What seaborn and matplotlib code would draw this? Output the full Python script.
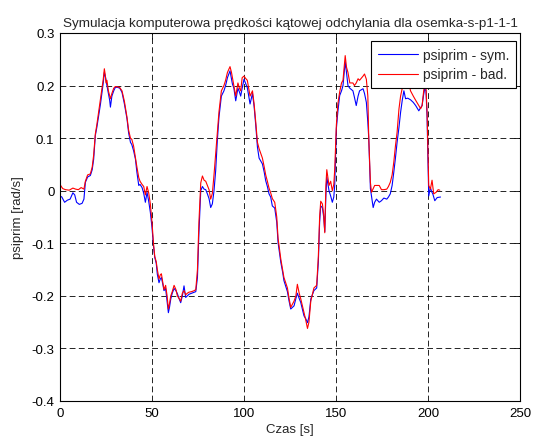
import numpy as np
import pandas as pd
import matplotlib
matplotlib.use("Agg")
import matplotlib.pyplot as plt
import seaborn as sns

title = "Symulacja komputerowa prędkości kątowej odchylania dla osemka-s-p1-1-1"
xlabel = "Czas [s]"
ylabel = "psiprim [rad/s]"
labels = ["psiprim - sym.", "psiprim - bad."]
xticks = [0, 50, 100, 150, 200, 250]
yticks = [-0.4, -0.3, -0.2, -0.1, 0, 0.1, 0.2, 0.3]
yticklabels = ["-0.4", "-0.3", "-0.2", "-0.1", "0", "0.1", "0.2", "0.3"]

sym_t = [0, 1, 2.5, 4, 5.5, 7, 8, 9, 10.5, 12, 13, 13.8, 15, 16.5, 17.5, 18.3, 19.2, 20, 21, 22,
         22.8, 23.5, 24.1, 24.8, 25.5, 26.3, 27, 27.4, 28.2, 29.2, 30, 31, 32.5, 33.7, 35, 36.4,
         37.3, 38.3, 39, 40, 41, 41.8, 42.8, 43.5, 44.6, 45.5, 46.4, 47.3, 48.2, 49.1, 50, 50.8,
         51.5, 52.3, 52.9, 53.8, 54.5, 55.1, 56, 56.5, 57.4, 58.2, 58.9, 59.5, 60.2, 61, 62, 63,
         63.8, 64.7, 65.6, 66.5, 67.4, 68.3, 69.2, 70.1, 71.5, 73, 73.8, 74.7, 75.5, 76.5, 77.4,
         78.3, 79.2, 80.1, 81, 81.9, 82.8, 83.7, 84.6, 85.5, 86.4, 87.7, 89.1, 90, 91, 92.4, 93.7,
         94.5, 95.5, 96.7, 97.5, 98.2, 99, 100, 100.8, 101.8, 103.3, 104.6, 105.5, 106.4, 107.3,
         108.2, 110, 111, 111.8, 112.7, 113.6, 114.5, 115.4, 116.7, 117.8, 118.5, 120, 121, 121.7,
         123.6, 124.5, 125.4, 127.2, 128.2, 129, 130, 130.8, 132.6, 133.5, 134.5, 135.3, 136.3,
         138, 139.5, 140.4, 141.1, 141.7, 142.6, 143.3, 143.9, 144.5, 145, 146.2, 147.1, 148,
         148.8, 149.3, 150.2, 151, 152, 153, 153.8, 155, 155.7, 156.5, 157.5, 159.2, 160, 161,
         162, 162.8, 164.7, 165.5, 166.5, 167.3, 167.8, 168.7, 169.3, 170.2, 171, 172, 173.5,
         174.7, 176, 177.6, 178.5, 179.5, 180.5, 181.4, 182.3, 183.2, 184.2, 185.1, 186, 186.9,
         187.8, 189, 190.5, 192, 193.3, 195, 196, 196.8, 197.5, 198.2, 198.9, 199.5, 199.8,
         200.4, 201.3, 202, 202.6, 203.7, 205, 206.8]
sym_v = [-0.010, -0.012, -0.022, -0.018, -0.016, -0.004, -0.008, -0.022, -0.026, -0.024, -0.016,
         0.016, 0.026, 0.029, 0.040, 0.060, 0.105, 0.120, 0.143, 0.165, 0.187, 0.205, 0.225, 0.215,
         0.200, 0.185, 0.172, 0.159, 0.180, 0.190, 0.196, 0.197, 0.195, 0.187, 0.165, 0.137, 0.110,
         0.092, 0.088, 0.076, 0.060, 0.035, 0.010, 0.012, 0.006, -0.005, -0.022, -0.003, -0.020,
         -0.041, -0.070, -0.105, -0.127, -0.138, -0.159, -0.175, -0.168, -0.165, -0.180, -0.190,
         -0.186, -0.210, -0.232, -0.222, -0.206, -0.195, -0.186, -0.190, -0.196, -0.205, -0.213,
         -0.200, -0.181, -0.203, -0.200, -0.197, -0.195, -0.193, -0.192, -0.165, -0.080, 0.000,
         0.008, 0.003, 0.002, -0.006, -0.015, -0.032, -0.025, 0.000, 0.038, 0.095, 0.140, 0.180,
         0.190, 0.200, 0.215, 0.228, 0.203, 0.195, 0.171, 0.195, 0.188, 0.180, 0.195, 0.212, 0.205,
         0.196, 0.165, 0.185, 0.160, 0.124, 0.083, 0.062, 0.051, 0.035, 0.019, 0.008, -0.006,
         -0.012, -0.029, -0.033, -0.060, -0.098, -0.136, -0.155, -0.171, -0.192, -0.210, -0.225,
         -0.219, -0.205, -0.195, -0.205, -0.212, -0.238, -0.243, -0.251, -0.240, -0.206, -0.190,
         -0.185, -0.136, -0.060, -0.029, -0.032, -0.050, -0.078, -0.010, 0.026, 0.000, -0.010,
         -0.022, -0.012, 0.010, 0.118, 0.150, 0.181, 0.190, 0.200, 0.245, 0.225, 0.200, 0.195,
         0.190, 0.178, 0.162, 0.180, 0.190, 0.194, 0.185, 0.168, 0.130, 0.100, 0.004, -0.010,
         -0.032, -0.022, -0.016, -0.022, -0.019, -0.014, -0.016, -0.012, -0.006, 0.010, 0.035,
         0.062, 0.092, 0.120, 0.149, 0.172, 0.190, 0.175, 0.176, 0.173, 0.168, 0.162, 0.152, 0.158,
         0.162, 0.180, 0.194, 0.190, 0.140, 0.086, -0.010, 0.006, -0.002, -0.006, -0.019, -0.013,
         -0.012]

bad_t = [0, 0.7, 1.5, 3, 5, 7, 8.5, 10, 11.5, 13, 13.8, 15, 16.5, 17.5, 18.3, 19.2, 20, 21, 22,
         22.8, 23.5, 24.1, 24.6, 25, 25.5, 26.3, 27, 27.4, 28.2, 29.2, 30, 31, 32.5, 33.7, 35,
         36.4, 37.3, 38.3, 39, 40, 41, 41.8, 42.8, 43.5, 44.6, 45.5, 46.4, 47.3, 48.2, 49.1, 50,
         50.8, 51.5, 52.3, 52.9, 53.8, 54.5, 55.1, 56, 56.5, 57.4, 58.2, 58.9, 59.5, 60.2, 61, 62,
         63, 63.8, 64.7, 65.6, 66.5, 67.4, 68.3, 69.2, 70.1, 71.5, 73, 73.8, 74.7, 75.5, 76.5,
         77.4, 78.3, 79.2, 80.1, 81, 81.9, 82.8, 83.7, 84.6, 85.5, 86.4, 87.7, 89.1, 90, 91, 92.4,
         93.2, 93.7, 94.5, 95.5, 96.7, 97.5, 98.2, 99, 100, 100.8, 101.8, 103.3, 104.6, 105.5,
         106.4, 107.3, 108.2, 110, 111, 111.8, 112.7, 113.6, 114.5, 115.4, 116.7, 117.8, 118.5,
         120, 121, 121.7, 123.6, 124.5, 125.4, 127.2, 128.2, 129, 130, 130.8, 132.6, 133.5, 134.5,
         135.3, 136.3, 138, 139.5, 140.4, 141.1, 141.7, 142.6, 143.3, 143.9, 144.5, 145, 146.2,
         147.1, 148, 148.8, 149.3, 150.2, 151, 152, 153, 153.8, 155, 155.7, 156.5, 157.5, 159.2,
         160, 161, 162, 162.8, 164.7, 165.5, 166.5, 167.3, 167.8, 168.7, 169.3, 170.2, 171, 172,
         173.5, 174.7, 176, 177.6, 178.5, 179.5, 180.5, 181.4, 182.3, 183.2, 184.2, 185.1, 186,
         186.9, 187.8, 189, 190.5, 192, 193.3, 195, 196, 196.8, 197.5, 198.2, 198.9, 199.5, 199.8,
         200.4, 201.3, 202.2, 203.1, 204.4, 205.5, 206.4]
bad_v = [0.012, 0.008, 0.004, 0.002, 0.001, 0.005, 0.003, 0.002, 0.006, 0.003, 0.018, 0.030,
         0.032, 0.045, 0.068, 0.108, 0.125, 0.150, 0.175, 0.195, 0.212, 0.232, 0.220, 0.205, 0.210,
         0.190, 0.180, 0.175, 0.185, 0.195, 0.198, 0.198, 0.196, 0.190, 0.170, 0.140, 0.115, 0.100,
         0.098, 0.085, 0.062, 0.045, 0.025, 0.018, 0.012, 0.008, -0.008, 0.008, -0.004, -0.025,
         -0.060, -0.100, -0.125, -0.135, -0.150, -0.168, -0.160, -0.158, -0.178, -0.188, -0.180,
         -0.200, -0.225, -0.215, -0.200, -0.192, -0.180, -0.188, -0.200, -0.205, -0.210, -0.195,
         -0.190, -0.198, -0.195, -0.193, -0.192, -0.190, -0.188, -0.150, -0.060, 0.015, 0.028,
         0.020, 0.018, 0.010, 0.002, -0.016, -0.005, 0.030, 0.070, 0.110, 0.150, 0.190, 0.200,
         0.210, 0.225, 0.236, 0.225, 0.215, 0.200, 0.180, 0.205, 0.195, 0.190, 0.215, 0.218, 0.214,
         0.210, 0.180, 0.190, 0.165, 0.130, 0.092, 0.080, 0.062, 0.045, 0.030, 0.018, 0.005, -0.004,
         -0.015, -0.022, -0.050, -0.090, -0.130, -0.150, -0.165, -0.185, -0.205, -0.222, -0.210,
         -0.200, -0.178, -0.195, -0.205, -0.232, -0.245, -0.262, -0.250, -0.210, -0.185, -0.180,
         -0.125, -0.050, -0.020, -0.025, -0.045, -0.080, 0.010, 0.040, 0.010, 0.018, 0.000, 0.012,
         0.040, 0.125, 0.165, 0.188, 0.205, 0.210, 0.257, 0.235, 0.225, 0.205, 0.205, 0.200, 0.205,
         0.213, 0.210, 0.218, 0.222, 0.212, 0.180, 0.100, 0.016, -0.003, 0.004, 0.010, 0.010,
         0.010, 0.002, 0.002, 0.003, 0.008, 0.016, 0.030, 0.054, 0.085, 0.111, 0.155, 0.180, 0.195,
         0.205, 0.200, 0.215, 0.190, 0.180, 0.172, 0.162, 0.156, 0.162, 0.185, 0.205, 0.198, 0.150,
         0.100, 0.010, 0.003, 0.020, -0.006, -0.003, 0.002, 0.001]

sns.set_style("white")
plt.rcParams['font.family'] = ['Liberation Sans', 'DejaVu Sans']
fs = 9.5

fig = plt.figure(figsize=(5.35, 4.39), dpi=100)
ax = fig.add_axes([60 / 535, 1 - 402 / 439, 460 / 535, 368 / 439])

sns.lineplot(x=sym_t, y=sym_v, ax=ax, color=(0, 0, 1), linewidth=0.8,
             estimator=None, sort=False, label=labels[0])
sns.lineplot(x=bad_t, y=bad_v, ax=ax, color=(1, 0, 0), linewidth=0.8,
             estimator=None, sort=False, label=labels[1])

ax.set_xlim(0, 250)
ax.set_ylim(-0.4, 0.3)
ax.set_xticks(xticks)
ax.set_yticks(yticks)
ax.set_xticklabels([str(v) for v in xticks])
ax.set_yticklabels(yticklabels)
ax.grid(True, color='black', linestyle=(0, (7, 4)), linewidth=0.6)
ax.tick_params(direction='in', length=4, width=0.6, top=True, right=True,
               labelsize=fs, colors='black', pad=4)
for s in ax.spines.values():
    s.set_color('black')
    s.set_linewidth(0.8)
ax.set_title(title, fontsize=9.7, pad=5)
ax.set_xlabel(xlabel, fontsize=fs, labelpad=3)
ax.set_ylabel(ylabel, fontsize=fs, labelpad=5)

leg = ax.legend(loc='upper right', bbox_to_anchor=(0.9913, 0.9774), fontsize=10,
                frameon=True, fancybox=False, edgecolor='black', framealpha=1,
                borderaxespad=0, handlelength=2.9, handletextpad=0.4,
                borderpad=0.45, labelspacing=0.42)
leg.get_frame().set_linewidth(0.8)

fig.savefig("out.png", dpi=100, facecolor='white')
